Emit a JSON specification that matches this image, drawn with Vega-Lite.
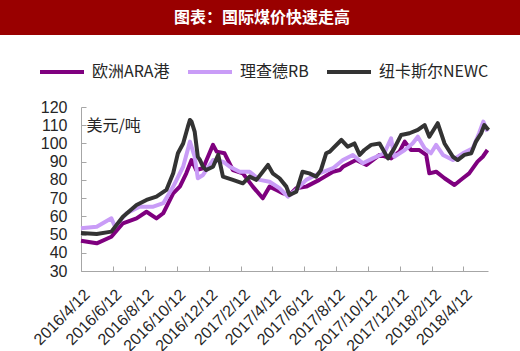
{
  "$schema": "https://vega.github.io/schema/vega-lite/v6.json",
  "padding": 0,
  "spacing": 13,
  "background": "white",
  "config": {"view": {"stroke": null}, "font": "Liberation Sans"},
  "resolve": {"legend": {"color": "independent"}},
  "vconcat": [
    {
      "width": 520,
      "height": 35,
      "data": {"values": [{"t": "图表：国际煤价快速走高"}]},
      "layer": [
        {"mark": {"type": "rect", "color": "#990000"}, "encoding": {}},
        {"mark": {"type": "text", "color": "white", "font": "Noto Sans CJK SC", "fontWeight": "bold", "fontSize": 16, "dx": 2}, "encoding": {"text": {"field": "t", "type": "nominal"}}}
      ]
    },
    {
      "width": 520,
      "height": 164,
      "data": {"values": [
        {"s": "欧洲ARA港", "d": "2016-04-12", "v": 46.6},
        {"s": "欧洲ARA港", "d": "2016-05-12", "v": 45.2},
        {"s": "欧洲ARA港", "d": "2016-06-09", "v": 48.8},
        {"s": "欧洲ARA港", "d": "2016-07-01", "v": 56.2},
        {"s": "欧洲ARA港", "d": "2016-07-27", "v": 58.9},
        {"s": "欧洲ARA港", "d": "2016-08-15", "v": 62.5},
        {"s": "欧洲ARA港", "d": "2016-09-03", "v": 58.9},
        {"s": "欧洲ARA港", "d": "2016-09-16", "v": 61.7},
        {"s": "欧洲ARA港", "d": "2016-10-05", "v": 72.6},
        {"s": "欧洲ARA港", "d": "2016-10-18", "v": 76.5},
        {"s": "欧洲ARA港", "d": "2016-10-30", "v": 83.6},
        {"s": "欧洲ARA港", "d": "2016-11-09", "v": 90.9},
        {"s": "欧洲ARA港", "d": "2016-11-15", "v": 87.2},
        {"s": "欧洲ARA港", "d": "2016-11-18", "v": 85.4},
        {"s": "欧洲ARA港", "d": "2016-12-01", "v": 86.4},
        {"s": "欧洲ARA港", "d": "2016-12-20", "v": 99.2},
        {"s": "欧洲ARA港", "d": "2016-12-27", "v": 95.5},
        {"s": "欧洲ARA港", "d": "2017-01-11", "v": 94.6},
        {"s": "欧洲ARA港", "d": "2017-01-27", "v": 85.4},
        {"s": "欧洲ARA港", "d": "2017-02-15", "v": 83.6},
        {"s": "欧洲ARA港", "d": "2017-03-06", "v": 76.3},
        {"s": "欧洲ARA港", "d": "2017-03-25", "v": 69.9},
        {"s": "欧洲ARA港", "d": "2017-04-07", "v": 76.3},
        {"s": "欧洲ARA港", "d": "2017-04-20", "v": 74.5},
        {"s": "欧洲ARA港", "d": "2017-05-03", "v": 72.6},
        {"s": "欧洲ARA港", "d": "2017-05-15", "v": 71.7},
        {"s": "欧洲ARA港", "d": "2017-05-28", "v": 75.4},
        {"s": "欧洲ARA港", "d": "2017-06-16", "v": 76.3},
        {"s": "欧洲ARA港", "d": "2017-07-11", "v": 80.0},
        {"s": "欧洲ARA港", "d": "2017-08-06", "v": 84.5},
        {"s": "欧洲ARA港", "d": "2017-08-19", "v": 85.4},
        {"s": "欧洲ARA港", "d": "2017-08-25", "v": 87.2},
        {"s": "欧洲ARA港", "d": "2017-09-19", "v": 90.9},
        {"s": "欧洲ARA港", "d": "2017-10-09", "v": 88.2},
        {"s": "欧洲ARA港", "d": "2017-11-03", "v": 93.7},
        {"s": "欧洲ARA港", "d": "2017-11-25", "v": 91.8},
        {"s": "欧洲ARA港", "d": "2017-12-11", "v": 95.5},
        {"s": "欧洲ARA港", "d": "2017-12-21", "v": 101.0},
        {"s": "欧洲ARA港", "d": "2018-01-02", "v": 96.4},
        {"s": "欧洲ARA港", "d": "2018-01-18", "v": 96.4},
        {"s": "欧洲ARA港", "d": "2018-01-31", "v": 93.7},
        {"s": "欧洲ARA港", "d": "2018-02-06", "v": 83.6},
        {"s": "欧洲ARA港", "d": "2018-02-19", "v": 84.5},
        {"s": "欧洲ARA港", "d": "2018-03-07", "v": 80.9},
        {"s": "欧洲ARA港", "d": "2018-03-26", "v": 77.2},
        {"s": "欧洲ARA港", "d": "2018-04-11", "v": 80.9},
        {"s": "欧洲ARA港", "d": "2018-04-23", "v": 83.6},
        {"s": "欧洲ARA港", "d": "2018-05-09", "v": 90.0},
        {"s": "欧洲ARA港", "d": "2018-05-19", "v": 92.7},
        {"s": "欧洲ARA港", "d": "2018-05-28", "v": 96.4},
        {"s": "理查德RB", "d": "2016-04-12", "v": 53.4},
        {"s": "理查德RB", "d": "2016-05-12", "v": 54.3},
        {"s": "理查德RB", "d": "2016-06-09", "v": 58.9},
        {"s": "理查德RB", "d": "2016-06-16", "v": 54.3},
        {"s": "理查德RB", "d": "2016-07-08", "v": 61.7},
        {"s": "理查德RB", "d": "2016-08-02", "v": 65.3},
        {"s": "理查德RB", "d": "2016-08-28", "v": 65.3},
        {"s": "理查德RB", "d": "2016-09-16", "v": 67.2},
        {"s": "理查德RB", "d": "2016-10-05", "v": 76.3},
        {"s": "理查德RB", "d": "2016-10-24", "v": 87.2},
        {"s": "理查德RB", "d": "2016-11-06", "v": 101.0},
        {"s": "理查德RB", "d": "2016-11-15", "v": 92.7},
        {"s": "理查德RB", "d": "2016-11-21", "v": 80.9},
        {"s": "理查德RB", "d": "2016-12-01", "v": 82.7},
        {"s": "理查德RB", "d": "2016-12-20", "v": 90.9},
        {"s": "理查德RB", "d": "2017-01-08", "v": 90.0},
        {"s": "理查德RB", "d": "2017-01-21", "v": 87.2},
        {"s": "理查德RB", "d": "2017-02-09", "v": 84.5},
        {"s": "理查德RB", "d": "2017-02-28", "v": 84.5},
        {"s": "理查德RB", "d": "2017-03-19", "v": 80.0},
        {"s": "理查德RB", "d": "2017-04-07", "v": 79.0},
        {"s": "理查德RB", "d": "2017-04-26", "v": 75.4},
        {"s": "理查德RB", "d": "2017-05-12", "v": 70.8},
        {"s": "理查德RB", "d": "2017-05-28", "v": 74.5},
        {"s": "理查德RB", "d": "2017-06-16", "v": 80.0},
        {"s": "理查德RB", "d": "2017-07-11", "v": 83.6},
        {"s": "理查德RB", "d": "2017-08-06", "v": 86.4},
        {"s": "理查德RB", "d": "2017-08-25", "v": 90.9},
        {"s": "理查德RB", "d": "2017-09-13", "v": 93.7},
        {"s": "理查德RB", "d": "2017-10-02", "v": 89.1},
        {"s": "理查德RB", "d": "2017-10-21", "v": 91.8},
        {"s": "理查德RB", "d": "2017-11-12", "v": 94.6},
        {"s": "理查德RB", "d": "2017-11-25", "v": 102.8},
        {"s": "理查德RB", "d": "2017-12-01", "v": 92.7},
        {"s": "理查德RB", "d": "2017-12-21", "v": 96.4},
        {"s": "理查德RB", "d": "2018-01-05", "v": 100.0},
        {"s": "理查德RB", "d": "2018-01-15", "v": 103.7},
        {"s": "理查德RB", "d": "2018-01-28", "v": 97.3},
        {"s": "理查德RB", "d": "2018-02-09", "v": 94.6},
        {"s": "理查德RB", "d": "2018-02-19", "v": 99.2},
        {"s": "理查德RB", "d": "2018-03-04", "v": 93.7},
        {"s": "理查德RB", "d": "2018-03-23", "v": 90.9},
        {"s": "理查德RB", "d": "2018-04-11", "v": 94.6},
        {"s": "理查德RB", "d": "2018-04-30", "v": 97.3},
        {"s": "理查德RB", "d": "2018-05-12", "v": 105.6},
        {"s": "理查德RB", "d": "2018-05-20", "v": 112.0},
        {"s": "理查德RB", "d": "2018-05-28", "v": 106.5},
        {"s": "纽卡斯尔NEWC", "d": "2016-04-12", "v": 50.9},
        {"s": "纽卡斯尔NEWC", "d": "2016-05-12", "v": 50.3},
        {"s": "纽卡斯尔NEWC", "d": "2016-06-09", "v": 51.6},
        {"s": "纽卡斯尔NEWC", "d": "2016-07-01", "v": 59.8},
        {"s": "纽卡斯尔NEWC", "d": "2016-07-27", "v": 66.2},
        {"s": "纽卡斯尔NEWC", "d": "2016-08-15", "v": 69.0},
        {"s": "纽卡斯尔NEWC", "d": "2016-09-03", "v": 70.8},
        {"s": "纽卡斯尔NEWC", "d": "2016-09-22", "v": 74.5},
        {"s": "纽卡斯尔NEWC", "d": "2016-10-05", "v": 83.6},
        {"s": "纽卡斯尔NEWC", "d": "2016-10-14", "v": 94.6},
        {"s": "纽卡斯尔NEWC", "d": "2016-10-24", "v": 100.0},
        {"s": "纽卡斯尔NEWC", "d": "2016-11-02", "v": 109.2},
        {"s": "纽卡斯尔NEWC", "d": "2016-11-06", "v": 112.9},
        {"s": "纽卡斯尔NEWC", "d": "2016-11-09", "v": 112.0},
        {"s": "纽卡斯尔NEWC", "d": "2016-11-15", "v": 106.5},
        {"s": "纽卡斯尔NEWC", "d": "2016-11-21", "v": 92.7},
        {"s": "纽卡斯尔NEWC", "d": "2016-11-25", "v": 91.0},
        {"s": "纽卡斯尔NEWC", "d": "2016-12-01", "v": 87.2},
        {"s": "纽卡斯尔NEWC", "d": "2016-12-07", "v": 85.4},
        {"s": "纽卡斯尔NEWC", "d": "2016-12-20", "v": 87.2},
        {"s": "纽卡斯尔NEWC", "d": "2016-12-30", "v": 93.7},
        {"s": "纽卡斯尔NEWC", "d": "2017-01-08", "v": 81.8},
        {"s": "纽卡斯尔NEWC", "d": "2017-01-27", "v": 80.0},
        {"s": "纽卡斯尔NEWC", "d": "2017-02-15", "v": 78.1},
        {"s": "纽卡斯尔NEWC", "d": "2017-02-28", "v": 81.8},
        {"s": "纽卡斯尔NEWC", "d": "2017-03-13", "v": 80.0},
        {"s": "纽卡斯尔NEWC", "d": "2017-04-04", "v": 88.2},
        {"s": "纽卡斯尔NEWC", "d": "2017-04-13", "v": 83.6},
        {"s": "纽卡斯尔NEWC", "d": "2017-04-26", "v": 80.9},
        {"s": "纽卡斯尔NEWC", "d": "2017-05-09", "v": 76.3},
        {"s": "纽卡斯尔NEWC", "d": "2017-05-15", "v": 71.7},
        {"s": "纽卡斯尔NEWC", "d": "2017-05-28", "v": 73.5},
        {"s": "纽卡斯尔NEWC", "d": "2017-06-09", "v": 84.5},
        {"s": "纽卡斯尔NEWC", "d": "2017-06-22", "v": 83.6},
        {"s": "纽卡斯尔NEWC", "d": "2017-07-05", "v": 81.8},
        {"s": "纽卡斯尔NEWC", "d": "2017-07-14", "v": 85.4},
        {"s": "纽卡斯尔NEWC", "d": "2017-07-24", "v": 94.6},
        {"s": "纽卡斯尔NEWC", "d": "2017-07-31", "v": 95.5},
        {"s": "纽卡斯尔NEWC", "d": "2017-08-06", "v": 97.3},
        {"s": "纽卡斯尔NEWC", "d": "2017-08-22", "v": 101.9},
        {"s": "纽卡斯尔NEWC", "d": "2017-09-03", "v": 98.2},
        {"s": "纽卡斯尔NEWC", "d": "2017-09-16", "v": 100.0},
        {"s": "纽卡斯尔NEWC", "d": "2017-09-26", "v": 93.7},
        {"s": "纽卡斯尔NEWC", "d": "2017-10-05", "v": 96.4},
        {"s": "纽卡斯尔NEWC", "d": "2017-10-18", "v": 99.2},
        {"s": "纽卡斯尔NEWC", "d": "2017-11-03", "v": 100.0},
        {"s": "纽卡斯尔NEWC", "d": "2017-11-19", "v": 91.8},
        {"s": "纽卡斯尔NEWC", "d": "2017-12-01", "v": 97.3},
        {"s": "纽卡斯尔NEWC", "d": "2017-12-14", "v": 104.6},
        {"s": "纽卡斯尔NEWC", "d": "2017-12-30", "v": 105.6},
        {"s": "纽卡斯尔NEWC", "d": "2018-01-15", "v": 107.4},
        {"s": "纽卡斯尔NEWC", "d": "2018-01-28", "v": 110.1},
        {"s": "纽卡斯尔NEWC", "d": "2018-02-06", "v": 103.7},
        {"s": "纽卡斯尔NEWC", "d": "2018-02-22", "v": 111.1},
        {"s": "纽卡斯尔NEWC", "d": "2018-03-07", "v": 100.0},
        {"s": "纽卡斯尔NEWC", "d": "2018-03-23", "v": 92.7},
        {"s": "纽卡斯尔NEWC", "d": "2018-04-01", "v": 90.9},
        {"s": "纽卡斯尔NEWC", "d": "2018-04-14", "v": 93.7},
        {"s": "纽卡斯尔NEWC", "d": "2018-04-27", "v": 94.6},
        {"s": "纽卡斯尔NEWC", "d": "2018-05-06", "v": 101.0},
        {"s": "纽卡斯尔NEWC", "d": "2018-05-16", "v": 105.6},
        {"s": "纽卡斯尔NEWC", "d": "2018-05-22", "v": 110.1},
        {"s": "纽卡斯尔NEWC", "d": "2018-05-30", "v": 107.4}
      ]},
      "mark": {"type": "line", "strokeWidth": 4, "strokeJoin": "round", "clip": false},
      "encoding": {
        "x": {
          "field": "d", "type": "temporal",
          "scale": {"type": "utc", "range": [81, 488], "domain": [{"year": 2016, "month": 4, "date": 12, "utc": true}, {"year": 2018, "month": 5, "date": 29, "utc": true}]},
          "axis": {
            "title": null, "grid": false,
            "values": [
              {"year": 2016, "month": 4, "date": 12, "utc": true},
              {"year": 2016, "month": 6, "date": 12, "utc": true},
              {"year": 2016, "month": 8, "date": 12, "utc": true},
              {"year": 2016, "month": 10, "date": 12, "utc": true},
              {"year": 2016, "month": 12, "date": 12, "utc": true},
              {"year": 2017, "month": 2, "date": 12, "utc": true},
              {"year": 2017, "month": 4, "date": 12, "utc": true},
              {"year": 2017, "month": 6, "date": 12, "utc": true},
              {"year": 2017, "month": 8, "date": 12, "utc": true},
              {"year": 2017, "month": 10, "date": 12, "utc": true},
              {"year": 2017, "month": 12, "date": 12, "utc": true},
              {"year": 2018, "month": 2, "date": 12, "utc": true},
              {"year": 2018, "month": 4, "date": 12, "utc": true}
            ],
            "format": "%Y/%-m/%-d",
            "labelAngle": -45, "labelFontSize": 16, "labelColor": "#262626",
            "labelPadding": 20, "labelOverlap": false, "labelFlush": false,
            "tickSize": -5, "tickColor": "#a6a6a6", "domainColor": "#a6a6a6"
          }
        },
        "y": {
          "field": "v", "type": "quantitative",
          "scale": {"domain": [30, 120], "nice": false, "zero": false},
          "axis": {
            "values": [30, 40, 50, 60, 70, 80, 90, 100, 110, 120],
            "offset": -81,
            "grid": false, "tickSize": -5, "tickColor": "#a6a6a6", "domainColor": "#a6a6a6",
            "labelFontSize": 16, "labelColor": "#262626", "labelPadding": 19,
            "title": "美元/吨", "titleAngle": 0, "titleX": 5, "titleY": 18,
            "titleAlign": "left", "titleBaseline": "middle", "titleFontSize": 16,
            "titleFontWeight": "normal", "titleFont": "Noto Sans CJK SC", "titleColor": "#262626",
            "titlePadding": 0
          }
        },
        "color": {
          "field": "s", "type": "nominal",
          "scale": {"domain": ["欧洲ARA港", "理查德RB", "纽卡斯尔NEWC"], "range": ["#7f007f", "#c99cf7", "#333333"]},
          "legend": {
            "orient": "none", "legendX": 38, "legendY": -59, "direction": "horizontal",
            "title": null, "symbolType": "stroke", "symbolSize": 1936, "symbolStrokeWidth": 4,
            "labelFontSize": 16, "labelFont": "Noto Sans CJK SC", "labelColor": "#262626",
            "labelOffset": 6, "columnPadding": 10, "labelLimit": 300
          }
        }
      }
    }
  ]
}
